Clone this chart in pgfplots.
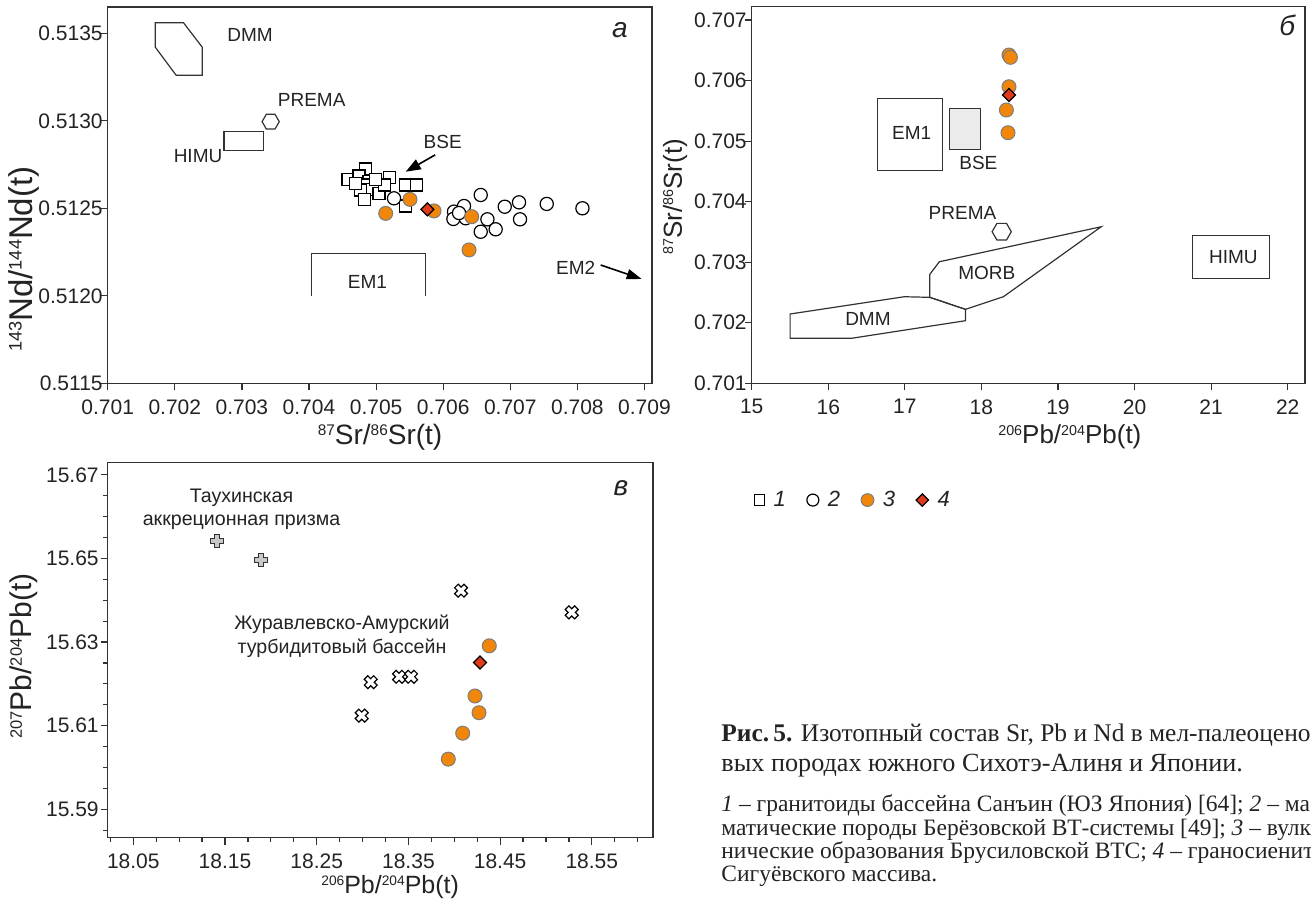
\documentclass[border=0pt]{standalone}
\usepackage{pgfplots}
\pgfplotsset{compat=1.18}
\usepackage{fontspec}
\setmainfont{Liberation Sans}
\newfontfamily\capserif{Liberation Serif}
\usetikzlibrary{arrows.meta}

\definecolor{orng}{RGB}{240,135,10}
\definecolor{orngedge}{RGB}{125,125,125}
\definecolor{dred}{RGB}{222,58,28}
\definecolor{gfill}{RGB}{200,200,200}
\definecolor{bsefill}{RGB}{235,235,235}
\definecolor{txt}{RGB}{35,35,35}
\definecolor{axc}{RGB}{50,50,50}

\newdimen\fsz
\newcommand{\lab}[2]{\fsz=#1\relax\fontsize{\fsz}{1.2\fsz}\selectfont #2}
\newcommand{\up}[1]{\raisebox{0.33\fsz}{\fontsize{0.55\fsz}{0.6\fsz}\selectfont #1}}

\pgfdeclareplotmark{hexa}{%
 \pgfpathmoveto{\pgfpointpolar{0}{\pgfplotmarksize}}%
 \pgfpathlineto{\pgfpointpolar{60}{\pgfplotmarksize}}%
 \pgfpathlineto{\pgfpointpolar{120}{\pgfplotmarksize}}%
 \pgfpathlineto{\pgfpointpolar{180}{\pgfplotmarksize}}%
 \pgfpathlineto{\pgfpointpolar{240}{\pgfplotmarksize}}%
 \pgfpathlineto{\pgfpointpolar{300}{\pgfplotmarksize}}%
 \pgfpathclose\pgfusepathqfillstroke}
\pgfdeclareplotmark{fatplus}{%
 \pgfpathmoveto{\pgfpoint{0.38\pgfplotmarksize}{\pgfplotmarksize}}%
 \pgfpathlineto{\pgfpoint{0.38\pgfplotmarksize}{0.38\pgfplotmarksize}}%
 \pgfpathlineto{\pgfpoint{\pgfplotmarksize}{0.38\pgfplotmarksize}}%
 \pgfpathlineto{\pgfpoint{\pgfplotmarksize}{-0.38\pgfplotmarksize}}%
 \pgfpathlineto{\pgfpoint{0.38\pgfplotmarksize}{-0.38\pgfplotmarksize}}%
 \pgfpathlineto{\pgfpoint{0.38\pgfplotmarksize}{-\pgfplotmarksize}}%
 \pgfpathlineto{\pgfpoint{-0.38\pgfplotmarksize}{-\pgfplotmarksize}}%
 \pgfpathlineto{\pgfpoint{-0.38\pgfplotmarksize}{-0.38\pgfplotmarksize}}%
 \pgfpathlineto{\pgfpoint{-\pgfplotmarksize}{-0.38\pgfplotmarksize}}%
 \pgfpathlineto{\pgfpoint{-\pgfplotmarksize}{0.38\pgfplotmarksize}}%
 \pgfpathlineto{\pgfpoint{-0.38\pgfplotmarksize}{0.38\pgfplotmarksize}}%
 \pgfpathlineto{\pgfpoint{-0.38\pgfplotmarksize}{\pgfplotmarksize}}%
 \pgfpathclose\pgfusepathqfillstroke}

\tikzset{tlab/.style={font=\fontsize{9.5pt}{11pt}\selectfont, text=txt, inner sep=0pt}}
\pgfplotsset{
 common/.style={
  scale only axis, anchor=south west, clip=false,
  axis line style={line width=0.7pt, draw=axc},
  tick style={line width=0.6pt, draw=axc},
  tick align=outside, xtick pos=bottom, ytick pos=left,
  major tick length=3.5pt, minor tick length=2.2pt,
  scaled ticks=false,
  ticklabel style={font=\fontsize{10.5pt}{12pt}\selectfont, text=txt},
  xticklabel style={yshift=-1pt},
  label style={text=txt},
 },
 sq/.style={only marks, mark=square*, mark size=3pt, mark options={draw=black, fill=white, line width=0.6pt}},
 ci/.style={only marks, mark=*, mark size=3.3pt, mark options={draw=black, fill=white, line width=0.6pt}},
 org/.style={only marks, mark=*, mark size=3.5pt, mark options={draw=orngedge, fill=orng, line width=0.5pt}},
 dia/.style={only marks, mark=square*, mark size=2.3pt, mark options={draw=black, fill=dred, line width=0.6pt, rotate=45}},
 shp/.style={line width=0.6pt, draw=axc, mark=none},
}

\begin{document}
\begin{tikzpicture}
\path[use as bounding box] (0,0) rectangle (655.5pt,-451pt);

% ---------------- panel a ----------------
\begin{axis}[common,
 at={(53.85pt,-191.65pt)}, width=272.15pt, height=188.15pt,
 xmin=0.701, xmax=0.709112, ymin=0.5115, ymax=0.51365,
 xtick={0.701,0.702,0.703,0.704,0.705,0.706,0.707,0.708,0.709},
 xticklabels={0.701,0.702,0.703,0.704,0.705,0.706,0.707,0.708,0.709},
 ytick={0.5115,0.5120,0.5125,0.5130,0.5135},
 yticklabels={0.5115,0.5120,0.5125,0.5130,0.5135},
 yticklabel style={xshift=4.5pt},
 xlabel={\lab{14pt}{\up{87}Sr/\up{86}Sr(t)}},
 ylabel={\lab{16.5pt}{\up{143}Nd/\up{144}Nd(t)}},
 xlabel style={at={(axis description cs:0.5003,-0.1427)}, anchor=center},
 ylabel style={at={(axis description cs:-0.154,0.33)}, anchor=center},
]
\addplot[shp] coordinates {(0.70171,0.51356) (0.70213,0.51356) (0.70241,0.51342) (0.70241,0.51326) (0.70202,0.51326) (0.70171,0.51342)} -- cycle;
\addplot[shp] coordinates {(0.702733,0.512938) (0.703320,0.512938) (0.703320,0.512829) (0.702733,0.512829)} -- cycle;
\addplot[shp] coordinates {(0.70404,0.5120) (0.70404,0.512243) (0.705739,0.512243) (0.705739,0.5120)};
\addplot[only marks, mark=hexa, mark size=4.3pt, mark options={draw=axc, fill=white, line width=0.6pt}] coordinates {(0.703429,0.512995)};
\addplot[line width=0.8pt, draw=black, -{Triangle[length=7.5pt,width=5.5pt]}] coordinates {(0.70588,0.512805) (0.705441,0.512709)};
\addplot[line width=0.8pt, draw=black, -{Triangle[length=7.5pt,width=5pt]}] coordinates {(0.708347,0.512176) (0.708958,0.512096)};
\addplot[sq] table {
0.704581 0.512666
0.704845 0.512725
0.704745 0.512685
0.704894 0.512652
0.704845 0.512633
0.704770 0.512605
0.704945 0.512609
0.704830 0.512551
0.705043 0.512586
0.705203 0.512677
0.705128 0.512633
0.705441 0.512633
0.705601 0.512633
0.705441 0.512513
0.704994 0.512666
0.704696 0.512643
};
\addplot[ci] table {
0.705267 0.512557
0.706559 0.512576
0.706310 0.512513
0.706161 0.512481
0.706152 0.512439
0.706335 0.512443
0.706659 0.512437
0.706559 0.512366
0.706782 0.512380
0.706917 0.512509
0.707130 0.512534
0.707145 0.512437
0.707543 0.512525
0.708075 0.512500
0.706236 0.512473
};
\addplot[org] table {
0.705143 0.512471
0.705505 0.512551
0.705863 0.512485
0.706425 0.512452
0.706385 0.512262
};
\addplot[dia] coordinates {(0.705764,0.512494)};
\node[tlab] at (axis cs:0.703121,0.513490) {DMM};
\node[tlab] at (axis cs:0.704040,0.513119) {PREMA};
\node[tlab, anchor=east] at (axis cs:0.702714,0.512799) {HIMU};
\node[tlab] at (axis cs:0.705993,0.512879) {BSE};
\node[tlab] at (axis cs:0.704870,0.512081) {EM1};
\node[tlab] at (axis cs:0.707975,0.512157) {EM2};
\node[font=\itshape\fontsize{14pt}{14pt}\selectfont, text=txt] at (rel axis cs:0.941,0.939) {а};
\end{axis}

% ---------------- panel b ----------------
\begin{axis}[common,
 at={(375.85pt,-191.65pt)}, width=276.65pt, height=188.3pt,
 xmin=15, xmax=22.226, ymin=0.701, ymax=0.70722,
 xtick={15,16,17,18,19,20,21,22},
 xticklabels={15,16,17,18,19,20,21,22},
 ytick={0.701,0.702,0.703,0.704,0.705,0.706,0.707},
 yticklabels={0.701,0.702,0.703,0.704,0.705,0.706,0.707},
 yticklabel style={xshift=4.5pt},
 xlabel={\lab{13pt}{\up{206}Pb/\up{204}Pb(t)}},
 ylabel={\lab{13pt}{\up{87}Sr/\up{86}Sr(t)}},
 xlabel style={at={(axis description cs:0.575,-0.143)}, anchor=center},
 ylabel style={at={(axis description cs:-0.1386,0.4955)}, anchor=center},
 legend style={at={(axis description cs:-0.007,-0.31)}, anchor=west, draw=none, fill=none,
   legend columns=4, font=\itshape\fontsize{11pt}{12pt}\selectfont, text=txt,
   /tikz/every odd column/.append style={column sep=2.5pt},
   /tikz/every even column/.append style={column sep=8.5pt}},
 legend image code/.code={\draw[mark repeat=2,mark phase=2,#1] plot coordinates {(0pt,0pt) (3pt,0pt) (6pt,0pt)};},
]
\addplot[shp, forget plot] coordinates {(16.64,0.705707) (17.49,0.705707) (17.49,0.704511) (16.64,0.704511)} -- cycle;
\addplot[shp, fill=bsefill, forget plot] coordinates {(17.586,0.705542) (17.993,0.705542) (17.993,0.704865) (17.586,0.704865)} -- cycle;
\addplot[shp, forget plot] coordinates {(17.326,0.702420) (17.326,0.702800) (17.451,0.703008) (19.564,0.703586) (18.287,0.702430) (17.791,0.702222)} -- cycle;
\addplot[shp, forget plot] coordinates {(15.502,0.702145) (16.992,0.702430) (17.326,0.702420) (17.791,0.702222) (17.791,0.702034) (16.301,0.701743) (15.502,0.701743)} -- cycle;
\addplot[shp, forget plot] coordinates {(20.757,0.703438) (21.764,0.703438) (21.764,0.702734) (20.757,0.702734)} -- cycle;
\addplot[only marks, mark=hexa, mark size=4.8pt, mark options={draw=axc, fill=white, line width=0.6pt}, forget plot] coordinates {(18.265,0.703504)};
\addplot[org, forget plot] table {
18.360 0.706422
18.379 0.706384
18.360 0.705898
18.326 0.705514
18.347 0.705139
};
\addplot[dia, forget plot] coordinates {(18.36,0.705761)};
\node[tlab] at (axis cs:17.09,0.705129) {EM1};
\node[tlab] at (axis cs:17.96,0.704633) {BSE};
\node[tlab] at (axis cs:17.753,0.703808) {PREMA};
\node[tlab] at (axis cs:18.07,0.702817) {MORB};
\node[tlab] at (axis cs:16.518,0.702057) {DMM};
\node[tlab] at (axis cs:21.29,0.703091) {HIMU};
\node[font=\itshape\fontsize{14pt}{14pt}\selectfont, text=txt] at (rel axis cs:0.968,0.95) {б};
\addlegendimage{only marks, mark=square*, mark size=2.6pt, mark options={draw=black, fill=white, line width=0.6pt}}
\addlegendentry{1}
\addlegendimage{only marks, mark=*, mark size=3pt, mark options={draw=black, fill=white, line width=0.6pt}}
\addlegendentry{2}
\addlegendimage{only marks, mark=*, mark size=3.2pt, mark options={draw=orngedge, fill=orng, line width=0.5pt}}
\addlegendentry{3}
\addlegendimage{only marks, mark=square*, mark size=2.2pt, mark options={draw=black, fill=dred, line width=0.6pt, rotate=45}}
\addlegendentry{4}
\end{axis}

% ---------------- panel v ----------------
\begin{axis}[common,
 at={(53.85pt,-418.85pt)}, width=272.65pt, height=187.5pt,
 xmin=18.0221, xmax=18.6167, ymin=15.5832, ymax=15.6729,
 xtick={18.05,18.15,18.25,18.35,18.45,18.55},
 xticklabels={18.05,18.15,18.25,18.35,18.45,18.55},
 minor xtick={18.025,18.075,18.1,18.125,18.175,18.2,18.225,18.275,18.3,18.325,18.375,18.4,18.425,18.475,18.5,18.525,18.575,18.6},
 ytick={15.59,15.61,15.63,15.65,15.67},
 yticklabels={15.59,15.61,15.63,15.65,15.67},
 yticklabel style={xshift=2.5pt},
 minor ytick={15.585,15.595,15.6,15.605,15.615,15.62,15.625,15.635,15.64,15.645,15.655,15.66,15.665},
 xlabel={\lab{12.5pt}{\up{206}Pb/\up{204}Pb(t)}},
 ylabel={\lab{15pt}{\up{207}Pb/\up{204}Pb(t)}},
 xlabel style={at={(axis description cs:0.518,-0.131)}, anchor=center},
 ylabel style={at={(axis description cs:-0.1535,0.4845)}, anchor=center},
]
\addplot[only marks, mark=fatplus, mark size=3.2pt, mark options={draw=axc, fill=gfill, line width=0.6pt}] table {
18.141 15.6542
18.189 15.6496
};
\addplot[only marks, mark=fatplus, mark size=3.3pt, mark options={draw=black, fill=white, line width=0.6pt, rotate=45}] table {
18.4074 15.6423
18.5281 15.6371
18.3089 15.6204
18.3398 15.6217
18.3529 15.6217
18.2991 15.6124
};
\addplot[org] table {
18.4382 15.6291
18.4226 15.6171
18.4270 15.6131
18.4092 15.6082
18.3935 15.6020
};
\addplot[dia] coordinates {(18.4281,15.6251)};
\node[font=\fontsize{9.8pt}{11.5pt}\selectfont, text=txt, align=center] at (axis cs:18.168,15.6617) {Таухинская\\аккреционная призма};
\node[font=\fontsize{9.8pt}{12pt}\selectfont, text=txt, align=center] at (axis cs:18.2776,15.6313) {Журавлевско-Амурский\\турбидитовый бассейн};
\node[font=\itshape\fontsize{14pt}{14pt}\selectfont, text=txt] at (rel axis cs:0.941,0.9325) {в};
\end{axis}

% ---------------- caption ----------------
\node[anchor=base west, inner sep=0pt, text=txt, font=\capserif\fontsize{12.7pt}{15pt}\selectfont] at (360.5pt,-370.85pt) {\textbf{Рис.\,5.} Изотопный состав Sr, Pb и Nd в мел-палеоцено};
\node[anchor=base west, inner sep=0pt, text=txt, font=\capserif\fontsize{13.1pt}{15pt}\selectfont] at (360.5pt,-385.85pt) {вых породах южного Сихотэ-Алиня и Японии.};
\node[anchor=base west, inner sep=0pt, text=txt, font=\capserif\fontsize{11.75pt}{12pt}\selectfont] at (360.5pt,-405.85pt) {\textit{1} – гранитоиды бассейна Санъин (ЮЗ Япония) [64]; \textit{2} – ма};
\node[anchor=base west, inner sep=0pt, text=txt, font=\capserif\fontsize{11.75pt}{12pt}\selectfont] at (360.5pt,-417.5pt) {матические породы Берёзовской ВТ-системы [49]; \textit{3} – вулк};
\node[anchor=base west, inner sep=0pt, text=txt, font=\capserif\fontsize{11.75pt}{12pt}\selectfont] at (360.5pt,-429.15pt) {нические образования Брусиловской ВТС; \textit{4} – граносиенит};
\node[anchor=base west, inner sep=0pt, text=txt, font=\capserif\fontsize{11.75pt}{12pt}\selectfont] at (360.5pt,-440.85pt) {Сигуёвского массива.};
\end{tikzpicture}
\end{document}
